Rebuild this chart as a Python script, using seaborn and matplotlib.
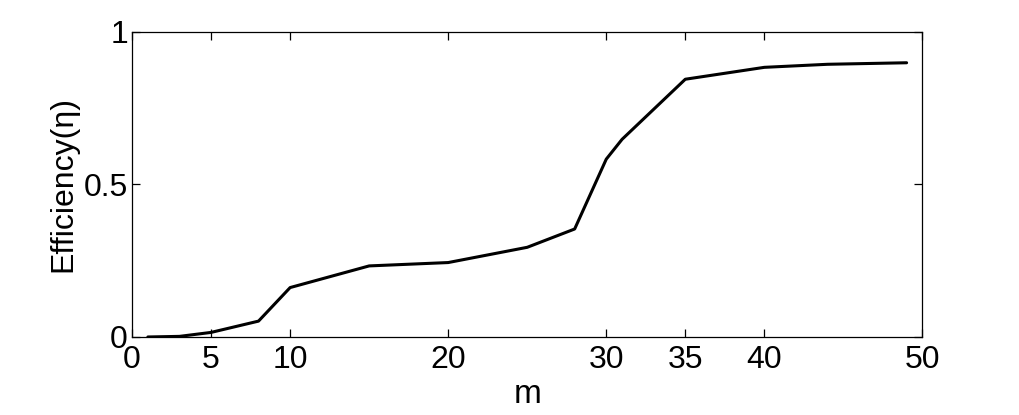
import matplotlib
matplotlib.use("Agg")
import matplotlib.pyplot as plt
import seaborn as sns
import pandas as pd

m_values = [1, 3, 5, 8, 10, 15, 20, 25, 28, 30, 31, 35, 40, 44, 49]
efficiency = [0.0, 0.002, 0.015, 0.052, 0.162, 0.233, 0.244, 0.294, 0.354, 0.583, 0.648, 0.845, 0.884, 0.894, 0.899]
x_ticks = [0, 5, 10, 20, 30, 35, 40, 50]
y_ticks = [0, 0.5, 1]
y_tick_labels = ["0", "0.5", "1"]

sns.set_style("ticks")
plt.rcParams['font.family'] = ['Liberation Sans', 'DejaVu Sans']
plt.rcParams['text.color'] = 'black'
plt.rcParams['axes.labelcolor'] = 'black'

df = pd.DataFrame({"m": m_values, "eff": efficiency})

fig = plt.figure(figsize=(10.19, 4.15), dpi=100)
ax = fig.add_axes([0.1296, 0.188, 0.7756, 0.735])
sns.lineplot(data=df, x="m", y="eff", ax=ax, color="black", linewidth=2.2)

ax.set_xlim(0, 50)
ax.set_ylim(0, 1)
ax.set_xticks(x_ticks)
ax.set_xticklabels([str(t) for t in x_ticks])
ax.set_yticks(y_ticks)
ax.set_yticklabels(y_tick_labels)
for s in ax.spines.values():
    s.set_visible(True)
    s.set_linewidth(0.9)
    s.set_color("black")
ax.tick_params(direction="in", length=6, width=0.9, top=True, right=True,
               labelsize=23, colors="black")
ax.tick_params(axis="x", pad=6)
ax.tick_params(axis="y", pad=3)
ax.set_xlabel("m", fontsize=24, labelpad=3, color="black")
ax.set_ylabel("Efficiency(η)", fontsize=23, labelpad=4, color="black")

fig.savefig("out.png", dpi=100, facecolor="white")
